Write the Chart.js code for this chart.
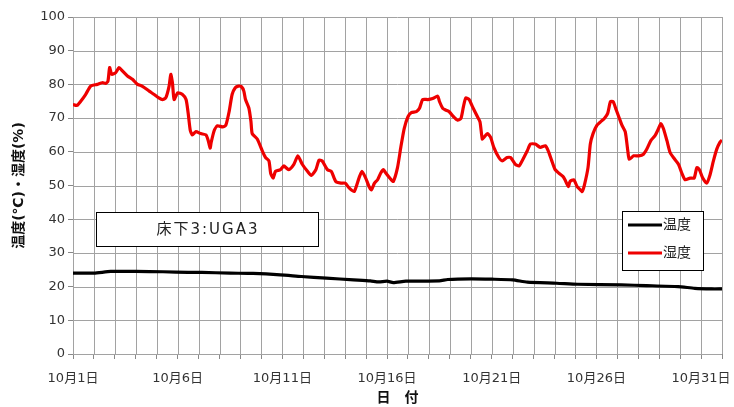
<!DOCTYPE html>
<html><head><meta charset="utf-8">
<script src="https://cdn.jsdelivr.net/npm/chart.js@4/dist/chart.umd.min.js"></script>
<style>html,body{margin:0;padding:0;background:#fff;}#wrap{width:734px;height:407px;}</style>
</head><body><div id="wrap"><canvas id="c" width="734" height="407"></canvas></div>
<script>
// ---- data (x = days since 10月1日 0:00) ----
const seriesNames = ['温度', '湿度'];
const tempDays = [0,1.0,1.8,3.0,4.3,5.5,6.15,7.5,8.6,9.9,10.9,12.1,13.4,14.2,14.6,15.0,15.3,15.9,17.5,17.9,19.0,20.0,21.0,21.7,23.1,24.1,26.2,27.4,28.9,29.7,30.5,31.0];
const tempValues = [24.0,24.0,24.5,24.5,24.4,24.2,24.2,24.0,23.9,23.5,23.0,22.5,22.0,21.7,21.4,21.6,21.2,21.6,21.7,22.1,22.3,22.2,22.0,21.3,21.0,20.7,20.5,20.3,20.0,19.5,19.3,19.3];
const humDays = [0,0.2,0.37,0.6,0.85,1.16,1.4,1.56,1.67,1.75,1.85,2.04,2.2,2.36,2.6,2.84,3.08,3.3,3.64,3.88,4.1,4.27,4.43,4.59,4.67,4.75,4.83,5,5.23,5.4,5.5,5.6,5.7,5.87,6.1,6.35,6.46,6.55,6.6,6.75,6.9,7.15,7.3,7.46,7.6,7.75,7.9,8.05,8.16,8.24,8.4,8.5,8.56,8.8,9.04,9.2,9.36,9.44,9.56,9.67,9.91,10.07,10.3,10.55,10.74,10.95,11.2,11.38,11.6,11.75,11.9,12.15,12.34,12.55,12.8,13.0,13.2,13.43,13.66,13.8,13.98,14.14,14.25,14.4,14.55,14.7,14.83,14.94,15.2,15.3,15.5,15.66,15.82,16.0,16.16,16.4,16.55,16.7,16.95,17.18,17.42,17.5,17.66,17.8,17.97,18.18,18.37,18.53,18.65,18.76,18.92,19.08,19.32,19.44,19.55,19.63,19.8,19.95,20.1,20.34,20.5,20.74,20.9,21.13,21.3,21.45,21.7,21.85,22.08,22.32,22.56,22.7,22.87,23.03,23.2,23.4,23.5,23.66,23.74,23.92,24.08,24.24,24.32,24.43,24.6,24.71,24.84,25.03,25.2,25.38,25.54,25.67,25.8,25.95,26.1,26.22,26.38,26.5,26.57,26.78,27.02,27.25,27.41,27.6,27.8,27.97,28.08,28.2,28.37,28.52,28.68,28.92,29.08,29.24,29.48,29.67,29.8,29.92,30.08,30.27,30.43,30.59,30.75,30.9,31.0];
const humValues = [74,73.8,75,77,79.5,80,80.5,80.3,81,85,83,83.5,85,84,82.5,81.5,80,79.5,78,77,76,75.5,76,79.5,83,80.5,75.5,77.5,77,75.5,71.5,66.4,65,66,65.4,65,63.3,61.1,62.8,66.4,67.7,67.4,67.9,72,77,79,79.5,79.3,78,75.5,73,69,65.4,63.8,60.3,58.3,57.3,53.7,52.2,54.2,54.7,55.8,54.7,56.3,58.8,56.3,54.2,53,54.7,57.5,57.3,54.7,54.2,51.2,50.7,50.7,49.2,48.2,52.2,54.2,52.2,49.7,48.7,50.7,51.7,53.7,54.7,53.7,51.7,51.2,55.3,61.4,66.9,70.4,71.6,71.9,72.9,75.5,75.5,75.8,76.5,75,72.9,72.4,71.9,70.4,69.4,69.9,73.4,76,75.5,73.4,70.4,68.9,63.8,64.3,65.4,64.3,61.3,58.3,57.3,58.3,58.3,56.3,55.8,57.3,60.3,62.3,62.3,61.3,61.8,60.3,57.3,54.7,53.7,52.7,51.7,49.7,51.2,51.7,49.7,48.7,48.2,50.2,55.3,62.3,65.4,67.9,68.9,69.9,71.4,74.9,74.9,72.4,69.9,67.9,65.9,60.3,57.8,58.8,58.8,59.3,60.8,63.3,64.8,66.9,68.4,66.9,63.3,59.8,58.3,56.3,53.7,51.7,52.2,52.2,55.3,54.7,52.2,50.7,53.2,57.3,60.8,62.8,63.5];
const tickDays = [0,5,10,15,20,25,30];
const tickLabels = ['10月1日','10月6日','10月11日','10月16日','10月21日','10月26日','10月31日'];
const yTitle = '温度(℃)・湿度(%)';
const xTitle = '日　付';
const boxText = '床下3:UGA3';

const toPts = (xs, ys) => xs.map((x, i) => ({x: x, y: ys[i]}));
const colors = ['#000000', '#ee0000'];
const FONT = "'DejaVu Sans','Noto Sans CJK JP',sans-serif";

// gridlines drawn from the library's own scale ticks
const gridPlugin = {
  id: 'gridPlugin',
  beforeDatasetsDraw(chart) {
    const ctx = chart.ctx, a = chart.chartArea;
    const xs = chart.scales.x, ys = chart.scales.y;
    ctx.save();
    ctx.strokeStyle = '#a2a2a2';
    ctx.lineWidth = 1;
    ctx.beginPath();
    xs.ticks.forEach(t => {
      const px = Math.round(xs.getPixelForValue(t.value)) + 0.5;
      ctx.moveTo(px, a.top); ctx.lineTo(px, a.bottom);
    });
    ys.ticks.forEach(t => {
      const py = Math.round(ys.getPixelForValue(t.value)) + 0.5;
      ctx.moveTo(a.left, py); ctx.lineTo(a.right, py);
    });
    ctx.stroke();
    ctx.restore();
  }
};

const overlay = {
  id: 'overlay',
  afterDatasetsDraw(chart) {
    const ctx = chart.ctx;
    ctx.save();
    // text box
    ctx.fillStyle = '#fff';
    ctx.fillRect(96.5, 212.5, 222, 34);
    ctx.strokeStyle = '#000';
    ctx.lineWidth = 1;
    ctx.strokeRect(96.5, 212.5, 222, 34);
    ctx.fillStyle = '#222';
    ctx.font = "15px " + FONT;
    ctx.letterSpacing = '2px';
    ctx.textAlign = 'center';
    ctx.textBaseline = 'middle';
    ctx.fillText(boxText, 208, 230);
    ctx.letterSpacing = '0px';
    // legend
    ctx.fillStyle = '#fff';
    ctx.fillRect(622.5, 211.5, 81, 59);
    ctx.strokeRect(622.5, 211.5, 81, 59);
    const ys = [225, 253];
    chart.data.datasets.forEach((ds, i) => {
      ctx.strokeStyle = ds.borderColor;
      ctx.lineWidth = 3;
      ctx.beginPath();
      ctx.moveTo(628, ys[i]);
      ctx.lineTo(662, ys[i]);
      ctx.stroke();
      ctx.fillStyle = '#222';
      ctx.font = "14px " + FONT;
      ctx.textAlign = 'left';
      ctx.textBaseline = 'middle';
      ctx.fillText(ds.label, 663, ys[i]);
    });
    ctx.restore();
  }
};

const gridOpts = {display: true, drawOnChartArea: false, drawTicks: true, color: '#888', lineWidth: 1, tickLength: 5};

new Chart(document.getElementById('c'), {
  type: 'line',
  data: {
    datasets: [
      {label: seriesNames[0], data: toPts(tempDays, tempValues), borderColor: colors[0], backgroundColor: colors[0], borderWidth: 3.2, pointRadius: 0, tension: 0.2},
      {label: seriesNames[1], data: toPts(humDays, humValues), borderColor: colors[1], backgroundColor: colors[1], borderWidth: 3.2, pointRadius: 0, tension: 0.2}
    ]
  },
  options: {
    responsive: false,
    animation: false,
    layout: {padding: {left: 0, right: 11, top: 17, bottom: 0}},
    plugins: {legend: {display: false}, tooltip: {enabled: false}},
    scales: {
      x: {
        type: 'linear', min: 0, max: 31,
        afterFit: s => { s.height = 53; },
        grid: gridOpts,
        border: {display: true, color: '#888'},
        ticks: {
          stepSize: 1, autoSkip: false, maxRotation: 0, padding: 12,
          color: '#333', font: {family: FONT, size: 13},
          callback: v => { const k = tickDays.indexOf(v); return k >= 0 ? tickLabels[k] : ''; }
        },
        title: {display: true, text: xTitle, color: '#111', font: {family: FONT, size: 14, weight: 'bold'}, padding: {top: 1, bottom: 0}}
      },
      y: {
        type: 'linear', min: 0, max: 100,
        afterFit: s => { s.width = 73; },
        grid: gridOpts,
        border: {display: true, color: '#888'},
        ticks: {stepSize: 10, padding: 3, color: '#333', font: {family: FONT, size: 13}},
        title: {display: true, text: yTitle, color: '#111', font: {family: FONT, size: 14, weight: 'bold'}, padding: {top: 11, bottom: 0}}
      }
    }
  },
  plugins: [gridPlugin, overlay]
});
</script>
</body></html>
